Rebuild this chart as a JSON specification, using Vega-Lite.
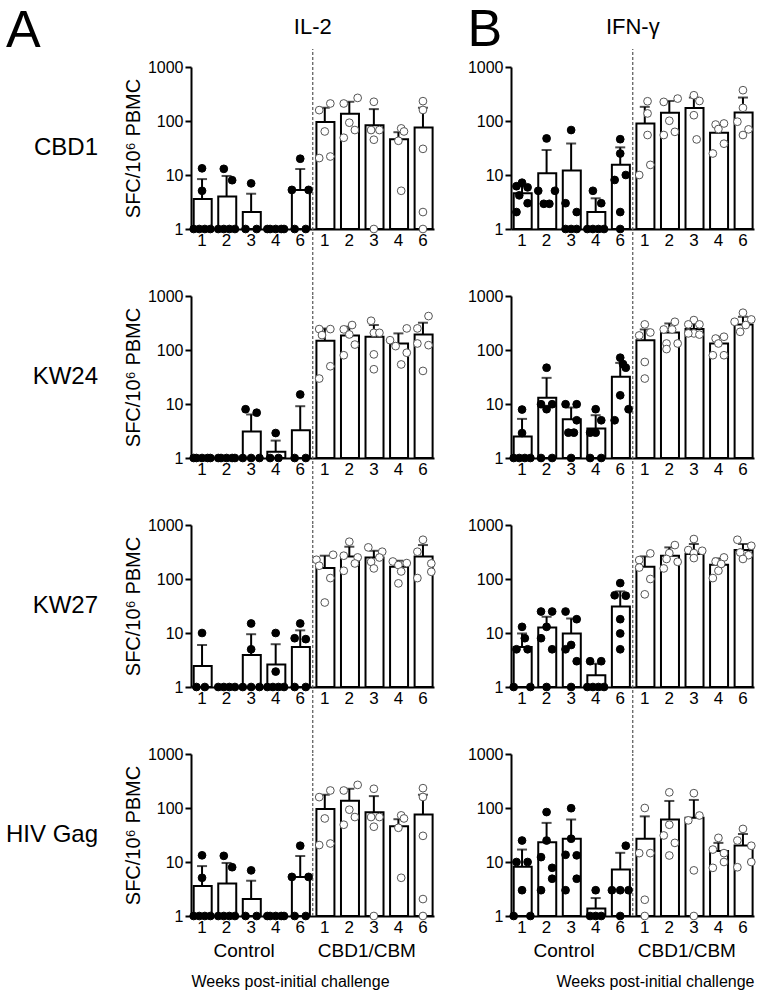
{
"$schema": "https://vega.github.io/schema/vega-lite/v6.json",
"padding": {"left": 5, "top": 4, "right": 2, "bottom": 2},
"config": {
 "font": "Liberation Sans",
 "view": {"stroke": null},
 "axis": {"domainColor": "black", "domainWidth": 2, "tickColor": "black", "tickWidth": 2, "labelColor": "black", "titleColor": "black", "grid": false, "titleFontWeight": "normal"},
 "title": {"fontWeight": "normal", "color": "black"}
},
"data": {"name": "d"},
"datasets": {"d": [
{"cyt":"IL-2","tgt":"CBD1","wk":"C1","mean":3.6,"hi":8.4},
{"cyt":"IL-2","tgt":"CBD1","wk":"C2","mean":4.0,"hi":9.6},
{"cyt":"IL-2","tgt":"CBD1","wk":"C3","mean":2.06,"hi":4.5},
{"cyt":"IL-2","tgt":"CBD1","wk":"C4","mean":1,"hi":1},
{"cyt":"IL-2","tgt":"CBD1","wk":"C6","mean":5.3,"hi":12.9},
{"cyt":"IL-2","tgt":"CBD1","wk":"V1","mean":96,"hi":176},
{"cyt":"IL-2","tgt":"CBD1","wk":"V2","mean":136,"hi":227},
{"cyt":"IL-2","tgt":"CBD1","wk":"V3","mean":83,"hi":166},
{"cyt":"IL-2","tgt":"CBD1","wk":"V4","mean":46,"hi":62},
{"cyt":"IL-2","tgt":"CBD1","wk":"V6","mean":76,"hi":176},
{"cyt":"IL-2","tgt":"HIV Gag","wk":"C1","mean":3.6,"hi":8.4},
{"cyt":"IL-2","tgt":"HIV Gag","wk":"C2","mean":4.0,"hi":9.6},
{"cyt":"IL-2","tgt":"HIV Gag","wk":"C3","mean":2.06,"hi":4.5},
{"cyt":"IL-2","tgt":"HIV Gag","wk":"C4","mean":1,"hi":1},
{"cyt":"IL-2","tgt":"HIV Gag","wk":"C6","mean":5.3,"hi":12.9},
{"cyt":"IL-2","tgt":"HIV Gag","wk":"V1","mean":96,"hi":176},
{"cyt":"IL-2","tgt":"HIV Gag","wk":"V2","mean":136,"hi":227},
{"cyt":"IL-2","tgt":"HIV Gag","wk":"V3","mean":83,"hi":166},
{"cyt":"IL-2","tgt":"HIV Gag","wk":"V4","mean":46,"hi":62},
{"cyt":"IL-2","tgt":"HIV Gag","wk":"V6","mean":76,"hi":176},
{"cyt":"IL-2","tgt":"KW24","wk":"C1","mean":1,"hi":1},
{"cyt":"IL-2","tgt":"KW24","wk":"C2","mean":1,"hi":1},
{"cyt":"IL-2","tgt":"KW24","wk":"C3","mean":3.1,"hi":6.4},
{"cyt":"IL-2","tgt":"KW24","wk":"C4","mean":1.31,"hi":2.1},
{"cyt":"IL-2","tgt":"KW24","wk":"C6","mean":3.26,"hi":9.1},
{"cyt":"IL-2","tgt":"KW24","wk":"V1","mean":148,"hi":250},
{"cyt":"IL-2","tgt":"KW24","wk":"V2","mean":186,"hi":270},
{"cyt":"IL-2","tgt":"KW24","wk":"V3","mean":176,"hi":290},
{"cyt":"IL-2","tgt":"KW24","wk":"V4","mean":132,"hi":203},
{"cyt":"IL-2","tgt":"KW24","wk":"V6","mean":194,"hi":320},
{"cyt":"IL-2","tgt":"KW27","wk":"C1","mean":2.45,"hi":6.0},
{"cyt":"IL-2","tgt":"KW27","wk":"C2","mean":1,"hi":1},
{"cyt":"IL-2","tgt":"KW27","wk":"C3","mean":3.9,"hi":9.5},
{"cyt":"IL-2","tgt":"KW27","wk":"C4","mean":2.6,"hi":6.2},
{"cyt":"IL-2","tgt":"KW27","wk":"C6","mean":5.5,"hi":11.2},
{"cyt":"IL-2","tgt":"KW27","wk":"V1","mean":159,"hi":270},
{"cyt":"IL-2","tgt":"KW27","wk":"V2","mean":262,"hi":396},
{"cyt":"IL-2","tgt":"KW27","wk":"V3","mean":251,"hi":333},
{"cyt":"IL-2","tgt":"KW27","wk":"V4","mean":168,"hi":218},
{"cyt":"IL-2","tgt":"KW27","wk":"V6","mean":262,"hi":425},
{"cyt":"IFN-γ","tgt":"CBD1","wk":"C1","mean":4.6,"hi":6.3},
{"cyt":"IFN-γ","tgt":"CBD1","wk":"C2","mean":10.8,"hi":29},
{"cyt":"IFN-γ","tgt":"CBD1","wk":"C3","mean":12.1,"hi":38.5},
{"cyt":"IFN-γ","tgt":"CBD1","wk":"C4","mean":2.06,"hi":3.7},
{"cyt":"IFN-γ","tgt":"CBD1","wk":"C6","mean":15.4,"hi":32.5},
{"cyt":"IFN-γ","tgt":"CBD1","wk":"V1","mean":90,"hi":183},
{"cyt":"IFN-γ","tgt":"CBD1","wk":"V2","mean":142,"hi":235},
{"cyt":"IFN-γ","tgt":"CBD1","wk":"V3","mean":175,"hi":272},
{"cyt":"IFN-γ","tgt":"CBD1","wk":"V4","mean":60.6,"hi":84},
{"cyt":"IFN-γ","tgt":"CBD1","wk":"V6","mean":144,"hi":272},
{"cyt":"IFN-γ","tgt":"KW24","wk":"C1","mean":2.5,"hi":5.3},
{"cyt":"IFN-γ","tgt":"KW24","wk":"C2","mean":13,"hi":30.5},
{"cyt":"IFN-γ","tgt":"KW24","wk":"C3","mean":5.2,"hi":8.6},
{"cyt":"IFN-γ","tgt":"KW24","wk":"C4","mean":3.5,"hi":6.2},
{"cyt":"IFN-γ","tgt":"KW24","wk":"C6","mean":31.8,"hi":57.7},
{"cyt":"IFN-γ","tgt":"KW24","wk":"V1","mean":152,"hi":240},
{"cyt":"IFN-γ","tgt":"KW24","wk":"V2","mean":211,"hi":310},
{"cyt":"IFN-γ","tgt":"KW24","wk":"V3","mean":244,"hi":310},
{"cyt":"IFN-γ","tgt":"KW24","wk":"V4","mean":132,"hi":176},
{"cyt":"IFN-γ","tgt":"KW24","wk":"V6","mean":298,"hi":412},
{"cyt":"IFN-γ","tgt":"KW27","wk":"C1","mean":5.5,"hi":9.8},
{"cyt":"IFN-γ","tgt":"KW27","wk":"C2","mean":12.6,"hi":20},
{"cyt":"IFN-γ","tgt":"KW27","wk":"C3","mean":9.8,"hi":18.5},
{"cyt":"IFN-γ","tgt":"KW27","wk":"C4","mean":1.65,"hi":2.7},
{"cyt":"IFN-γ","tgt":"KW27","wk":"C6","mean":31,"hi":59},
{"cyt":"IFN-γ","tgt":"KW27","wk":"V1","mean":168,"hi":262},
{"cyt":"IFN-γ","tgt":"KW27","wk":"V2","mean":270,"hi":385},
{"cyt":"IFN-γ","tgt":"KW27","wk":"V3","mean":290,"hi":445},
{"cyt":"IFN-γ","tgt":"KW27","wk":"V4","mean":183,"hi":240},
{"cyt":"IFN-γ","tgt":"KW27","wk":"V6","mean":343,"hi":445},
{"cyt":"IFN-γ","tgt":"HIV Gag","wk":"C1","mean":8.2,"hi":17},
{"cyt":"IFN-γ","tgt":"HIV Gag","wk":"C2","mean":23.3,"hi":53},
{"cyt":"IFN-γ","tgt":"HIV Gag","wk":"C3","mean":27,"hi":61},
{"cyt":"IFN-γ","tgt":"HIV Gag","wk":"C4","mean":1.37,"hi":2.15},
{"cyt":"IFN-γ","tgt":"HIV Gag","wk":"C6","mean":7.3,"hi":14.8},
{"cyt":"IFN-γ","tgt":"HIV Gag","wk":"V1","mean":27,"hi":70},
{"cyt":"IFN-γ","tgt":"HIV Gag","wk":"V2","mean":61,"hi":135},
{"cyt":"IFN-γ","tgt":"HIV Gag","wk":"V3","mean":66,"hi":141},
{"cyt":"IFN-γ","tgt":"HIV Gag","wk":"V4","mean":15.9,"hi":22.6},
{"cyt":"IFN-γ","tgt":"HIV Gag","wk":"V6","mean":20.2,"hi":33},
{"cyt":"IL-2","tgt":"CBD1","wk":"C1","v":13.3,"r":4},{"cyt":"IL-2","tgt":"CBD1","wk":"C1","v":5.1,"r":4},{"cyt":"IL-2","tgt":"CBD1","wk":"C1","v":1,"r":1},{"cyt":"IL-2","tgt":"CBD1","wk":"C1","v":1,"r":3},{"cyt":"IL-2","tgt":"CBD1","wk":"C1","v":1,"r":5},{"cyt":"IL-2","tgt":"CBD1","wk":"C1","v":1,"r":7},
{"cyt":"IL-2","tgt":"CBD1","wk":"C2","v":13,"r":3},{"cyt":"IL-2","tgt":"CBD1","wk":"C2","v":8,"r":6},{"cyt":"IL-2","tgt":"CBD1","wk":"C2","v":1,"r":1},{"cyt":"IL-2","tgt":"CBD1","wk":"C2","v":1,"r":3},{"cyt":"IL-2","tgt":"CBD1","wk":"C2","v":1,"r":5},{"cyt":"IL-2","tgt":"CBD1","wk":"C2","v":1,"r":7},
{"cyt":"IL-2","tgt":"CBD1","wk":"C3","v":7,"r":4},{"cyt":"IL-2","tgt":"CBD1","wk":"C3","v":1,"r":2},{"cyt":"IL-2","tgt":"CBD1","wk":"C3","v":1,"r":6},
{"cyt":"IL-2","tgt":"CBD1","wk":"C4","v":1,"r":1},{"cyt":"IL-2","tgt":"CBD1","wk":"C4","v":1,"r":2},{"cyt":"IL-2","tgt":"CBD1","wk":"C4","v":1,"r":4},{"cyt":"IL-2","tgt":"CBD1","wk":"C4","v":1,"r":6},{"cyt":"IL-2","tgt":"CBD1","wk":"C4","v":1,"r":7},
{"cyt":"IL-2","tgt":"CBD1","wk":"C6","v":20,"r":4},{"cyt":"IL-2","tgt":"CBD1","wk":"C6","v":5.3,"r":1},{"cyt":"IL-2","tgt":"CBD1","wk":"C6","v":5.3,"r":7},{"cyt":"IL-2","tgt":"CBD1","wk":"C6","v":1,"r":2},{"cyt":"IL-2","tgt":"CBD1","wk":"C6","v":1,"r":6},
{"cyt":"IL-2","tgt":"CBD1","wk":"V1","v":159,"r":2},{"cyt":"IL-2","tgt":"CBD1","wk":"V1","v":211,"r":6},{"cyt":"IL-2","tgt":"CBD1","wk":"V1","v":64,"r":4},{"cyt":"IL-2","tgt":"CBD1","wk":"V1","v":20.6,"r":2},{"cyt":"IL-2","tgt":"CBD1","wk":"V1","v":22,"r":6},
{"cyt":"IL-2","tgt":"CBD1","wk":"V2","v":268,"r":7},{"cyt":"IL-2","tgt":"CBD1","wk":"V2","v":211,"r":2},{"cyt":"IL-2","tgt":"CBD1","wk":"V2","v":93,"r":4},{"cyt":"IL-2","tgt":"CBD1","wk":"V2","v":68,"r":6},{"cyt":"IL-2","tgt":"CBD1","wk":"V2","v":49,"r":2},
{"cyt":"IL-2","tgt":"CBD1","wk":"V3","v":227,"r":4},{"cyt":"IL-2","tgt":"CBD1","wk":"V3","v":68,"r":3},{"cyt":"IL-2","tgt":"CBD1","wk":"V3","v":68,"r":6},{"cyt":"IL-2","tgt":"CBD1","wk":"V3","v":45,"r":4},{"cyt":"IL-2","tgt":"CBD1","wk":"V3","v":1,"r":4},
{"cyt":"IL-2","tgt":"CBD1","wk":"V4","v":73,"r":5},{"cyt":"IL-2","tgt":"CBD1","wk":"V4","v":64,"r":6},{"cyt":"IL-2","tgt":"CBD1","wk":"V4","v":43,"r":4},{"cyt":"IL-2","tgt":"CBD1","wk":"V4","v":5.1,"r":5},
{"cyt":"IL-2","tgt":"CBD1","wk":"V6","v":233,"r":4},{"cyt":"IL-2","tgt":"CBD1","wk":"V6","v":160,"r":4},{"cyt":"IL-2","tgt":"CBD1","wk":"V6","v":30.5,"r":4},{"cyt":"IL-2","tgt":"CBD1","wk":"V6","v":2.06,"r":4},{"cyt":"IL-2","tgt":"CBD1","wk":"V6","v":1,"r":4},
{"cyt":"IL-2","tgt":"HIV Gag","wk":"C1","v":13.3,"r":4},{"cyt":"IL-2","tgt":"HIV Gag","wk":"C1","v":5.1,"r":4},{"cyt":"IL-2","tgt":"HIV Gag","wk":"C1","v":1,"r":1},{"cyt":"IL-2","tgt":"HIV Gag","wk":"C1","v":1,"r":3},{"cyt":"IL-2","tgt":"HIV Gag","wk":"C1","v":1,"r":5},{"cyt":"IL-2","tgt":"HIV Gag","wk":"C1","v":1,"r":7},
{"cyt":"IL-2","tgt":"HIV Gag","wk":"C2","v":13,"r":3},{"cyt":"IL-2","tgt":"HIV Gag","wk":"C2","v":8,"r":6},{"cyt":"IL-2","tgt":"HIV Gag","wk":"C2","v":1,"r":1},{"cyt":"IL-2","tgt":"HIV Gag","wk":"C2","v":1,"r":3},{"cyt":"IL-2","tgt":"HIV Gag","wk":"C2","v":1,"r":5},{"cyt":"IL-2","tgt":"HIV Gag","wk":"C2","v":1,"r":7},
{"cyt":"IL-2","tgt":"HIV Gag","wk":"C3","v":7,"r":4},{"cyt":"IL-2","tgt":"HIV Gag","wk":"C3","v":1,"r":2},{"cyt":"IL-2","tgt":"HIV Gag","wk":"C3","v":1,"r":6},
{"cyt":"IL-2","tgt":"HIV Gag","wk":"C4","v":1,"r":1},{"cyt":"IL-2","tgt":"HIV Gag","wk":"C4","v":1,"r":2},{"cyt":"IL-2","tgt":"HIV Gag","wk":"C4","v":1,"r":4},{"cyt":"IL-2","tgt":"HIV Gag","wk":"C4","v":1,"r":6},{"cyt":"IL-2","tgt":"HIV Gag","wk":"C4","v":1,"r":7},
{"cyt":"IL-2","tgt":"HIV Gag","wk":"C6","v":20,"r":4},{"cyt":"IL-2","tgt":"HIV Gag","wk":"C6","v":5.3,"r":1},{"cyt":"IL-2","tgt":"HIV Gag","wk":"C6","v":5.3,"r":7},{"cyt":"IL-2","tgt":"HIV Gag","wk":"C6","v":1,"r":2},{"cyt":"IL-2","tgt":"HIV Gag","wk":"C6","v":1,"r":6},
{"cyt":"IL-2","tgt":"HIV Gag","wk":"V1","v":159,"r":2},{"cyt":"IL-2","tgt":"HIV Gag","wk":"V1","v":211,"r":6},{"cyt":"IL-2","tgt":"HIV Gag","wk":"V1","v":64,"r":4},{"cyt":"IL-2","tgt":"HIV Gag","wk":"V1","v":20.6,"r":2},{"cyt":"IL-2","tgt":"HIV Gag","wk":"V1","v":22,"r":6},
{"cyt":"IL-2","tgt":"HIV Gag","wk":"V2","v":268,"r":7},{"cyt":"IL-2","tgt":"HIV Gag","wk":"V2","v":211,"r":2},{"cyt":"IL-2","tgt":"HIV Gag","wk":"V2","v":93,"r":4},{"cyt":"IL-2","tgt":"HIV Gag","wk":"V2","v":68,"r":6},{"cyt":"IL-2","tgt":"HIV Gag","wk":"V2","v":49,"r":2},
{"cyt":"IL-2","tgt":"HIV Gag","wk":"V3","v":227,"r":4},{"cyt":"IL-2","tgt":"HIV Gag","wk":"V3","v":68,"r":3},{"cyt":"IL-2","tgt":"HIV Gag","wk":"V3","v":68,"r":6},{"cyt":"IL-2","tgt":"HIV Gag","wk":"V3","v":45,"r":4},{"cyt":"IL-2","tgt":"HIV Gag","wk":"V3","v":1,"r":4},
{"cyt":"IL-2","tgt":"HIV Gag","wk":"V4","v":73,"r":5},{"cyt":"IL-2","tgt":"HIV Gag","wk":"V4","v":64,"r":6},{"cyt":"IL-2","tgt":"HIV Gag","wk":"V4","v":43,"r":4},{"cyt":"IL-2","tgt":"HIV Gag","wk":"V4","v":5.1,"r":5},
{"cyt":"IL-2","tgt":"HIV Gag","wk":"V6","v":233,"r":4},{"cyt":"IL-2","tgt":"HIV Gag","wk":"V6","v":160,"r":4},{"cyt":"IL-2","tgt":"HIV Gag","wk":"V6","v":30.5,"r":4},{"cyt":"IL-2","tgt":"HIV Gag","wk":"V6","v":2.06,"r":4},{"cyt":"IL-2","tgt":"HIV Gag","wk":"V6","v":1,"r":4},
{"cyt":"IL-2","tgt":"KW24","wk":"C1","v":1,"r":1},{"cyt":"IL-2","tgt":"KW24","wk":"C1","v":1,"r":2},{"cyt":"IL-2","tgt":"KW24","wk":"C1","v":1,"r":4},{"cyt":"IL-2","tgt":"KW24","wk":"C1","v":1,"r":6},{"cyt":"IL-2","tgt":"KW24","wk":"C1","v":1,"r":7},
{"cyt":"IL-2","tgt":"KW24","wk":"C2","v":1,"r":1},{"cyt":"IL-2","tgt":"KW24","wk":"C2","v":1,"r":2},{"cyt":"IL-2","tgt":"KW24","wk":"C2","v":1,"r":4},{"cyt":"IL-2","tgt":"KW24","wk":"C2","v":1,"r":6},{"cyt":"IL-2","tgt":"KW24","wk":"C2","v":1,"r":7},
{"cyt":"IL-2","tgt":"KW24","wk":"C3","v":8,"r":2},{"cyt":"IL-2","tgt":"KW24","wk":"C3","v":6.9,"r":6},{"cyt":"IL-2","tgt":"KW24","wk":"C3","v":1,"r":1},{"cyt":"IL-2","tgt":"KW24","wk":"C3","v":1,"r":4},{"cyt":"IL-2","tgt":"KW24","wk":"C3","v":1,"r":7},
{"cyt":"IL-2","tgt":"KW24","wk":"C4","v":2.9,"r":4},{"cyt":"IL-2","tgt":"KW24","wk":"C4","v":1,"r":2},{"cyt":"IL-2","tgt":"KW24","wk":"C4","v":1,"r":5},
{"cyt":"IL-2","tgt":"KW24","wk":"C6","v":15,"r":4},{"cyt":"IL-2","tgt":"KW24","wk":"C6","v":1,"r":2},{"cyt":"IL-2","tgt":"KW24","wk":"C6","v":1,"r":6},
{"cyt":"IL-2","tgt":"KW24","wk":"V1","v":244,"r":2},{"cyt":"IL-2","tgt":"KW24","wk":"V1","v":244,"r":6},{"cyt":"IL-2","tgt":"KW24","wk":"V1","v":189,"r":3},{"cyt":"IL-2","tgt":"KW24","wk":"V1","v":50,"r":6},{"cyt":"IL-2","tgt":"KW24","wk":"V1","v":29.6,"r":2},
{"cyt":"IL-2","tgt":"KW24","wk":"V2","v":290,"r":5},{"cyt":"IL-2","tgt":"KW24","wk":"V2","v":241,"r":2},{"cyt":"IL-2","tgt":"KW24","wk":"V2","v":194,"r":4},{"cyt":"IL-2","tgt":"KW24","wk":"V2","v":126,"r":6},{"cyt":"IL-2","tgt":"KW24","wk":"V2","v":80,"r":2},
{"cyt":"IL-2","tgt":"KW24","wk":"V3","v":348,"r":3},{"cyt":"IL-2","tgt":"KW24","wk":"V3","v":208,"r":4},{"cyt":"IL-2","tgt":"KW24","wk":"V3","v":208,"r":6},{"cyt":"IL-2","tgt":"KW24","wk":"V3","v":83,"r":4},{"cyt":"IL-2","tgt":"KW24","wk":"V3","v":44,"r":4},
{"cyt":"IL-2","tgt":"KW24","wk":"V4","v":251,"r":7},{"cyt":"IL-2","tgt":"KW24","wk":"V4","v":152,"r":1},{"cyt":"IL-2","tgt":"KW24","wk":"V4","v":118,"r":3},{"cyt":"IL-2","tgt":"KW24","wk":"V4","v":89,"r":7},{"cyt":"IL-2","tgt":"KW24","wk":"V4","v":54,"r":5},
{"cyt":"IL-2","tgt":"KW24","wk":"V6","v":425,"r":6},{"cyt":"IL-2","tgt":"KW24","wk":"V6","v":251,"r":2},{"cyt":"IL-2","tgt":"KW24","wk":"V6","v":132,"r":2},{"cyt":"IL-2","tgt":"KW24","wk":"V6","v":123,"r":6},{"cyt":"IL-2","tgt":"KW24","wk":"V6","v":41,"r":4},
{"cyt":"IL-2","tgt":"KW27","wk":"C1","v":10,"r":4},{"cyt":"IL-2","tgt":"KW27","wk":"C1","v":1,"r":2},{"cyt":"IL-2","tgt":"KW27","wk":"C1","v":1,"r":5},
{"cyt":"IL-2","tgt":"KW27","wk":"C2","v":1,"r":1},{"cyt":"IL-2","tgt":"KW27","wk":"C2","v":1,"r":3},{"cyt":"IL-2","tgt":"KW27","wk":"C2","v":1,"r":5},{"cyt":"IL-2","tgt":"KW27","wk":"C2","v":1,"r":7},
{"cyt":"IL-2","tgt":"KW27","wk":"C3","v":15,"r":4},{"cyt":"IL-2","tgt":"KW27","wk":"C3","v":5,"r":4},{"cyt":"IL-2","tgt":"KW27","wk":"C3","v":1,"r":1},{"cyt":"IL-2","tgt":"KW27","wk":"C3","v":1,"r":4},{"cyt":"IL-2","tgt":"KW27","wk":"C3","v":1,"r":7},
{"cyt":"IL-2","tgt":"KW27","wk":"C4","v":10,"r":4},{"cyt":"IL-2","tgt":"KW27","wk":"C4","v":1.93,"r":4},{"cyt":"IL-2","tgt":"KW27","wk":"C4","v":1,"r":1},{"cyt":"IL-2","tgt":"KW27","wk":"C4","v":1,"r":3},{"cyt":"IL-2","tgt":"KW27","wk":"C4","v":1,"r":5},{"cyt":"IL-2","tgt":"KW27","wk":"C4","v":1,"r":7},
{"cyt":"IL-2","tgt":"KW27","wk":"C6","v":15,"r":4},{"cyt":"IL-2","tgt":"KW27","wk":"C6","v":8,"r":2},{"cyt":"IL-2","tgt":"KW27","wk":"C6","v":7.7,"r":6},{"cyt":"IL-2","tgt":"KW27","wk":"C6","v":1,"r":2},{"cyt":"IL-2","tgt":"KW27","wk":"C6","v":1,"r":6},
{"cyt":"IL-2","tgt":"KW27","wk":"V1","v":227,"r":1},{"cyt":"IL-2","tgt":"KW27","wk":"V1","v":281,"r":7},{"cyt":"IL-2","tgt":"KW27","wk":"V1","v":176,"r":2},{"cyt":"IL-2","tgt":"KW27","wk":"V1","v":104,"r":6},{"cyt":"IL-2","tgt":"KW27","wk":"V1","v":36.7,"r":4},
{"cyt":"IL-2","tgt":"KW27","wk":"V2","v":490,"r":4},{"cyt":"IL-2","tgt":"KW27","wk":"V2","v":270,"r":2},{"cyt":"IL-2","tgt":"KW27","wk":"V2","v":251,"r":7},{"cyt":"IL-2","tgt":"KW27","wk":"V2","v":194,"r":6},{"cyt":"IL-2","tgt":"KW27","wk":"V2","v":142,"r":2},
{"cyt":"IL-2","tgt":"KW27","wk":"V3","v":385,"r":2},{"cyt":"IL-2","tgt":"KW27","wk":"V3","v":320,"r":7},{"cyt":"IL-2","tgt":"KW27","wk":"V3","v":250,"r":6},{"cyt":"IL-2","tgt":"KW27","wk":"V3","v":208,"r":3},{"cyt":"IL-2","tgt":"KW27","wk":"V3","v":157,"r":4},
{"cyt":"IL-2","tgt":"KW27","wk":"V4","v":211,"r":2},{"cyt":"IL-2","tgt":"KW27","wk":"V4","v":197,"r":7},{"cyt":"IL-2","tgt":"KW27","wk":"V4","v":181,"r":4},{"cyt":"IL-2","tgt":"KW27","wk":"V4","v":138,"r":5},{"cyt":"IL-2","tgt":"KW27","wk":"V4","v":83,"r":4},
{"cyt":"IL-2","tgt":"KW27","wk":"V6","v":533,"r":4},{"cyt":"IL-2","tgt":"KW27","wk":"V6","v":320,"r":2},{"cyt":"IL-2","tgt":"KW27","wk":"V6","v":194,"r":7},{"cyt":"IL-2","tgt":"KW27","wk":"V6","v":136,"r":7},{"cyt":"IL-2","tgt":"KW27","wk":"V6","v":104,"r":2},
{"cyt":"IFN-γ","tgt":"CBD1","wk":"C1","v":7.2,"r":4},{"cyt":"IFN-γ","tgt":"CBD1","wk":"C1","v":6.2,"r":2},{"cyt":"IFN-γ","tgt":"CBD1","wk":"C1","v":5.9,"r":6},{"cyt":"IFN-γ","tgt":"CBD1","wk":"C1","v":4.2,"r":3},{"cyt":"IFN-γ","tgt":"CBD1","wk":"C1","v":3.0,"r":6},{"cyt":"IFN-γ","tgt":"CBD1","wk":"C1","v":2.06,"r":2},
{"cyt":"IFN-γ","tgt":"CBD1","wk":"C2","v":47.6,"r":4},{"cyt":"IFN-γ","tgt":"CBD1","wk":"C2","v":5.1,"r":1},{"cyt":"IFN-γ","tgt":"CBD1","wk":"C2","v":5.1,"r":7},{"cyt":"IFN-γ","tgt":"CBD1","wk":"C2","v":2.93,"r":3},{"cyt":"IFN-γ","tgt":"CBD1","wk":"C2","v":2.93,"r":5},
{"cyt":"IFN-γ","tgt":"CBD1","wk":"C3","v":68,"r":4},{"cyt":"IFN-γ","tgt":"CBD1","wk":"C3","v":3.0,"r":2},{"cyt":"IFN-γ","tgt":"CBD1","wk":"C3","v":2.06,"r":6},{"cyt":"IFN-γ","tgt":"CBD1","wk":"C3","v":1,"r":2},{"cyt":"IFN-γ","tgt":"CBD1","wk":"C3","v":1,"r":4},{"cyt":"IFN-γ","tgt":"CBD1","wk":"C3","v":1,"r":6},
{"cyt":"IFN-γ","tgt":"CBD1","wk":"C4","v":5.1,"r":3},{"cyt":"IFN-γ","tgt":"CBD1","wk":"C4","v":3.0,"r":6},{"cyt":"IFN-γ","tgt":"CBD1","wk":"C4","v":1,"r":1},{"cyt":"IFN-γ","tgt":"CBD1","wk":"C4","v":1,"r":3},{"cyt":"IFN-γ","tgt":"CBD1","wk":"C4","v":1,"r":5},{"cyt":"IFN-γ","tgt":"CBD1","wk":"C4","v":1,"r":7},
{"cyt":"IFN-γ","tgt":"CBD1","wk":"C6","v":46,"r":4},{"cyt":"IFN-γ","tgt":"CBD1","wk":"C6","v":25,"r":4},{"cyt":"IFN-γ","tgt":"CBD1","wk":"C6","v":10,"r":6},{"cyt":"IFN-γ","tgt":"CBD1","wk":"C6","v":8.1,"r":2},{"cyt":"IFN-γ","tgt":"CBD1","wk":"C6","v":2.06,"r":4},{"cyt":"IFN-γ","tgt":"CBD1","wk":"C6","v":1,"r":4},
{"cyt":"IFN-γ","tgt":"CBD1","wk":"V1","v":232,"r":5},{"cyt":"IFN-γ","tgt":"CBD1","wk":"V1","v":138,"r":5},{"cyt":"IFN-γ","tgt":"CBD1","wk":"V1","v":55,"r":5},{"cyt":"IFN-γ","tgt":"CBD1","wk":"V1","v":15.4,"r":6},{"cyt":"IFN-γ","tgt":"CBD1","wk":"V1","v":10,"r":2},
{"cyt":"IFN-γ","tgt":"CBD1","wk":"V2","v":226,"r":2},{"cyt":"IFN-γ","tgt":"CBD1","wk":"V2","v":260,"r":7},{"cyt":"IFN-γ","tgt":"CBD1","wk":"V2","v":101,"r":4},{"cyt":"IFN-γ","tgt":"CBD1","wk":"V2","v":55,"r":2},{"cyt":"IFN-γ","tgt":"CBD1","wk":"V2","v":63,"r":6},
{"cyt":"IFN-γ","tgt":"CBD1","wk":"V3","v":300,"r":4},{"cyt":"IFN-γ","tgt":"CBD1","wk":"V3","v":235,"r":6},{"cyt":"IFN-γ","tgt":"CBD1","wk":"V3","v":128,"r":4},{"cyt":"IFN-γ","tgt":"CBD1","wk":"V3","v":45.6,"r":5},
{"cyt":"IFN-γ","tgt":"CBD1","wk":"V4","v":86,"r":3},{"cyt":"IFN-γ","tgt":"CBD1","wk":"V4","v":90,"r":6},{"cyt":"IFN-γ","tgt":"CBD1","wk":"V4","v":71,"r":4},{"cyt":"IFN-γ","tgt":"CBD1","wk":"V4","v":38,"r":6},{"cyt":"IFN-γ","tgt":"CBD1","wk":"V4","v":25,"r":2},
{"cyt":"IFN-γ","tgt":"CBD1","wk":"V6","v":372,"r":4},{"cyt":"IFN-γ","tgt":"CBD1","wk":"V6","v":175,"r":4},{"cyt":"IFN-γ","tgt":"CBD1","wk":"V6","v":97,"r":2},{"cyt":"IFN-γ","tgt":"CBD1","wk":"V6","v":70,"r":6},{"cyt":"IFN-γ","tgt":"CBD1","wk":"V6","v":55,"r":4},
{"cyt":"IFN-γ","tgt":"KW24","wk":"C1","v":7.9,"r":4},{"cyt":"IFN-γ","tgt":"KW24","wk":"C1","v":2.9,"r":4},{"cyt":"IFN-γ","tgt":"KW24","wk":"C1","v":1,"r":1},{"cyt":"IFN-γ","tgt":"KW24","wk":"C1","v":1,"r":3},{"cyt":"IFN-γ","tgt":"KW24","wk":"C1","v":1,"r":5},{"cyt":"IFN-γ","tgt":"KW24","wk":"C1","v":1,"r":7},
{"cyt":"IFN-γ","tgt":"KW24","wk":"C2","v":47,"r":4},{"cyt":"IFN-γ","tgt":"KW24","wk":"C2","v":9.9,"r":2},{"cyt":"IFN-γ","tgt":"KW24","wk":"C2","v":9.9,"r":6},{"cyt":"IFN-γ","tgt":"KW24","wk":"C2","v":8,"r":4},{"cyt":"IFN-γ","tgt":"KW24","wk":"C2","v":1,"r":2},{"cyt":"IFN-γ","tgt":"KW24","wk":"C2","v":1,"r":6},
{"cyt":"IFN-γ","tgt":"KW24","wk":"C3","v":9.9,"r":2},{"cyt":"IFN-γ","tgt":"KW24","wk":"C3","v":9.9,"r":6},{"cyt":"IFN-γ","tgt":"KW24","wk":"C3","v":5,"r":6},{"cyt":"IFN-γ","tgt":"KW24","wk":"C3","v":2.95,"r":3},{"cyt":"IFN-γ","tgt":"KW24","wk":"C3","v":2.95,"r":5},{"cyt":"IFN-γ","tgt":"KW24","wk":"C3","v":1,"r":4},
{"cyt":"IFN-γ","tgt":"KW24","wk":"C4","v":8,"r":4},{"cyt":"IFN-γ","tgt":"KW24","wk":"C4","v":5,"r":6},{"cyt":"IFN-γ","tgt":"KW24","wk":"C4","v":2.95,"r":2},{"cyt":"IFN-γ","tgt":"KW24","wk":"C4","v":2.95,"r":4},{"cyt":"IFN-γ","tgt":"KW24","wk":"C4","v":1,"r":2},{"cyt":"IFN-γ","tgt":"KW24","wk":"C4","v":1,"r":6},
{"cyt":"IFN-γ","tgt":"KW24","wk":"C6","v":72,"r":4},{"cyt":"IFN-γ","tgt":"KW24","wk":"C6","v":55,"r":5},{"cyt":"IFN-γ","tgt":"KW24","wk":"C6","v":47,"r":6},{"cyt":"IFN-γ","tgt":"KW24","wk":"C6","v":14.5,"r":4},{"cyt":"IFN-γ","tgt":"KW24","wk":"C6","v":8,"r":7},{"cyt":"IFN-γ","tgt":"KW24","wk":"C6","v":5,"r":2},
{"cyt":"IFN-γ","tgt":"KW24","wk":"V1","v":298,"r":4},{"cyt":"IFN-γ","tgt":"KW24","wk":"V1","v":211,"r":6},{"cyt":"IFN-γ","tgt":"KW24","wk":"V1","v":186,"r":2},{"cyt":"IFN-γ","tgt":"KW24","wk":"V1","v":60,"r":4},{"cyt":"IFN-γ","tgt":"KW24","wk":"V1","v":29.6,"r":4},
{"cyt":"IFN-γ","tgt":"KW24","wk":"V2","v":333,"r":6},{"cyt":"IFN-γ","tgt":"KW24","wk":"V2","v":240,"r":5},{"cyt":"IFN-γ","tgt":"KW24","wk":"V2","v":240,"r":2},{"cyt":"IFN-γ","tgt":"KW24","wk":"V2","v":132,"r":3},{"cyt":"IFN-γ","tgt":"KW24","wk":"V2","v":132,"r":7},{"cyt":"IFN-γ","tgt":"KW24","wk":"V2","v":104,"r":3},
{"cyt":"IFN-γ","tgt":"KW24","wk":"V3","v":358,"r":4},{"cyt":"IFN-γ","tgt":"KW24","wk":"V3","v":298,"r":6},{"cyt":"IFN-γ","tgt":"KW24","wk":"V3","v":298,"r":2},{"cyt":"IFN-γ","tgt":"KW24","wk":"V3","v":203,"r":4},{"cyt":"IFN-γ","tgt":"KW24","wk":"V3","v":193,"r":6},{"cyt":"IFN-γ","tgt":"KW24","wk":"V3","v":203,"r":2},
{"cyt":"IFN-γ","tgt":"KW24","wk":"V4","v":176,"r":6},{"cyt":"IFN-γ","tgt":"KW24","wk":"V4","v":163,"r":3},{"cyt":"IFN-γ","tgt":"KW24","wk":"V4","v":132,"r":4},{"cyt":"IFN-γ","tgt":"KW24","wk":"V4","v":80,"r":2},{"cyt":"IFN-γ","tgt":"KW24","wk":"V4","v":80,"r":6},
{"cyt":"IFN-γ","tgt":"KW24","wk":"V6","v":490,"r":4},{"cyt":"IFN-γ","tgt":"KW24","wk":"V6","v":368,"r":7},{"cyt":"IFN-γ","tgt":"KW24","wk":"V6","v":333,"r":1},{"cyt":"IFN-γ","tgt":"KW24","wk":"V6","v":290,"r":5},{"cyt":"IFN-γ","tgt":"KW24","wk":"V6","v":217,"r":3},
{"cyt":"IFN-γ","tgt":"KW27","wk":"C1","v":13,"r":4},{"cyt":"IFN-γ","tgt":"KW27","wk":"C1","v":8,"r":5},{"cyt":"IFN-γ","tgt":"KW27","wk":"C1","v":5,"r":2},{"cyt":"IFN-γ","tgt":"KW27","wk":"C1","v":5,"r":6},{"cyt":"IFN-γ","tgt":"KW27","wk":"C1","v":1,"r":1},{"cyt":"IFN-γ","tgt":"KW27","wk":"C1","v":1,"r":7},
{"cyt":"IFN-γ","tgt":"KW27","wk":"C2","v":25,"r":2},{"cyt":"IFN-γ","tgt":"KW27","wk":"C2","v":25,"r":6},{"cyt":"IFN-γ","tgt":"KW27","wk":"C2","v":13,"r":4},{"cyt":"IFN-γ","tgt":"KW27","wk":"C2","v":8,"r":2},{"cyt":"IFN-γ","tgt":"KW27","wk":"C2","v":5,"r":6},{"cyt":"IFN-γ","tgt":"KW27","wk":"C2","v":1,"r":4},
{"cyt":"IFN-γ","tgt":"KW27","wk":"C3","v":25,"r":2},{"cyt":"IFN-γ","tgt":"KW27","wk":"C3","v":18,"r":6},{"cyt":"IFN-γ","tgt":"KW27","wk":"C3","v":6,"r":4},{"cyt":"IFN-γ","tgt":"KW27","wk":"C3","v":5,"r":2},{"cyt":"IFN-γ","tgt":"KW27","wk":"C3","v":3,"r":6},{"cyt":"IFN-γ","tgt":"KW27","wk":"C3","v":1,"r":4},
{"cyt":"IFN-γ","tgt":"KW27","wk":"C4","v":3,"r":2},{"cyt":"IFN-γ","tgt":"KW27","wk":"C4","v":3,"r":6},{"cyt":"IFN-γ","tgt":"KW27","wk":"C4","v":1,"r":1},{"cyt":"IFN-γ","tgt":"KW27","wk":"C4","v":1,"r":3},{"cyt":"IFN-γ","tgt":"KW27","wk":"C4","v":1,"r":5},{"cyt":"IFN-γ","tgt":"KW27","wk":"C4","v":1,"r":7},
{"cyt":"IFN-γ","tgt":"KW27","wk":"C6","v":84,"r":4},{"cyt":"IFN-γ","tgt":"KW27","wk":"C6","v":50,"r":2},{"cyt":"IFN-γ","tgt":"KW27","wk":"C6","v":49,"r":6},{"cyt":"IFN-γ","tgt":"KW27","wk":"C6","v":18,"r":4},{"cyt":"IFN-γ","tgt":"KW27","wk":"C6","v":9.8,"r":4},{"cyt":"IFN-γ","tgt":"KW27","wk":"C6","v":5,"r":4},
{"cyt":"IFN-γ","tgt":"KW27","wk":"V1","v":298,"r":6},{"cyt":"IFN-γ","tgt":"KW27","wk":"V1","v":224,"r":2},{"cyt":"IFN-γ","tgt":"KW27","wk":"V1","v":163,"r":2},{"cyt":"IFN-γ","tgt":"KW27","wk":"V1","v":100,"r":6},{"cyt":"IFN-γ","tgt":"KW27","wk":"V1","v":52,"r":4},
{"cyt":"IFN-γ","tgt":"KW27","wk":"V2","v":425,"r":6},{"cyt":"IFN-γ","tgt":"KW27","wk":"V2","v":302,"r":4},{"cyt":"IFN-γ","tgt":"KW27","wk":"V2","v":235,"r":3},{"cyt":"IFN-γ","tgt":"KW27","wk":"V2","v":208,"r":7},{"cyt":"IFN-γ","tgt":"KW27","wk":"V2","v":157,"r":2},
{"cyt":"IFN-γ","tgt":"KW27","wk":"V3","v":550,"r":4},{"cyt":"IFN-γ","tgt":"KW27","wk":"V3","v":343,"r":2},{"cyt":"IFN-γ","tgt":"KW27","wk":"V3","v":333,"r":7},{"cyt":"IFN-γ","tgt":"KW27","wk":"V3","v":302,"r":4},{"cyt":"IFN-γ","tgt":"KW27","wk":"V3","v":244,"r":4},
{"cyt":"IFN-γ","tgt":"KW27","wk":"V4","v":251,"r":6},{"cyt":"IFN-γ","tgt":"KW27","wk":"V4","v":211,"r":3},{"cyt":"IFN-γ","tgt":"KW27","wk":"V4","v":190,"r":5},{"cyt":"IFN-γ","tgt":"KW27","wk":"V4","v":142,"r":4},{"cyt":"IFN-γ","tgt":"KW27","wk":"V4","v":104,"r":2},
{"cyt":"IFN-γ","tgt":"KW27","wk":"V6","v":533,"r":2},{"cyt":"IFN-γ","tgt":"KW27","wk":"V6","v":412,"r":7},{"cyt":"IFN-γ","tgt":"KW27","wk":"V6","v":310,"r":3},{"cyt":"IFN-γ","tgt":"KW27","wk":"V6","v":276,"r":6},{"cyt":"IFN-γ","tgt":"KW27","wk":"V6","v":235,"r":4},
{"cyt":"IFN-γ","tgt":"HIV Gag","wk":"C1","v":25,"r":4},{"cyt":"IFN-γ","tgt":"HIV Gag","wk":"C1","v":10,"r":2},{"cyt":"IFN-γ","tgt":"HIV Gag","wk":"C1","v":10,"r":6},{"cyt":"IFN-γ","tgt":"HIV Gag","wk":"C1","v":3,"r":4},{"cyt":"IFN-γ","tgt":"HIV Gag","wk":"C1","v":1,"r":1},{"cyt":"IFN-γ","tgt":"HIV Gag","wk":"C1","v":1,"r":7},
{"cyt":"IFN-γ","tgt":"HIV Gag","wk":"C2","v":84,"r":4},{"cyt":"IFN-γ","tgt":"HIV Gag","wk":"C2","v":25,"r":4},{"cyt":"IFN-γ","tgt":"HIV Gag","wk":"C2","v":12.3,"r":2},{"cyt":"IFN-γ","tgt":"HIV Gag","wk":"C2","v":7.8,"r":6},{"cyt":"IFN-γ","tgt":"HIV Gag","wk":"C2","v":4.9,"r":6},{"cyt":"IFN-γ","tgt":"HIV Gag","wk":"C2","v":3,"r":2},
{"cyt":"IFN-γ","tgt":"HIV Gag","wk":"C3","v":99,"r":4},{"cyt":"IFN-γ","tgt":"HIV Gag","wk":"C3","v":27,"r":4},{"cyt":"IFN-γ","tgt":"HIV Gag","wk":"C3","v":13.6,"r":2},{"cyt":"IFN-γ","tgt":"HIV Gag","wk":"C3","v":13.3,"r":6},{"cyt":"IFN-γ","tgt":"HIV Gag","wk":"C3","v":4.9,"r":6},{"cyt":"IFN-γ","tgt":"HIV Gag","wk":"C3","v":3,"r":2},
{"cyt":"IFN-γ","tgt":"HIV Gag","wk":"C4","v":3,"r":4},{"cyt":"IFN-γ","tgt":"HIV Gag","wk":"C4","v":1,"r":2},{"cyt":"IFN-γ","tgt":"HIV Gag","wk":"C4","v":1,"r":4},{"cyt":"IFN-γ","tgt":"HIV Gag","wk":"C4","v":1,"r":6},
{"cyt":"IFN-γ","tgt":"HIV Gag","wk":"C6","v":20,"r":6},{"cyt":"IFN-γ","tgt":"HIV Gag","wk":"C6","v":3,"r":1},{"cyt":"IFN-γ","tgt":"HIV Gag","wk":"C6","v":3,"r":4},{"cyt":"IFN-γ","tgt":"HIV Gag","wk":"C6","v":3,"r":7},{"cyt":"IFN-γ","tgt":"HIV Gag","wk":"C6","v":1,"r":4},
{"cyt":"IFN-γ","tgt":"HIV Gag","wk":"V1","v":100,"r":4},{"cyt":"IFN-γ","tgt":"HIV Gag","wk":"V1","v":14.6,"r":2},{"cyt":"IFN-γ","tgt":"HIV Gag","wk":"V1","v":14.6,"r":6},{"cyt":"IFN-γ","tgt":"HIV Gag","wk":"V1","v":2,"r":4},{"cyt":"IFN-γ","tgt":"HIV Gag","wk":"V1","v":1,"r":4},
{"cyt":"IFN-γ","tgt":"HIV Gag","wk":"V2","v":195,"r":4},{"cyt":"IFN-γ","tgt":"HIV Gag","wk":"V2","v":49,"r":4},{"cyt":"IFN-γ","tgt":"HIV Gag","wk":"V2","v":31,"r":2},{"cyt":"IFN-γ","tgt":"HIV Gag","wk":"V2","v":22.6,"r":6},{"cyt":"IFN-γ","tgt":"HIV Gag","wk":"V2","v":13.2,"r":4},
{"cyt":"IFN-γ","tgt":"HIV Gag","wk":"V3","v":188,"r":4},{"cyt":"IFN-γ","tgt":"HIV Gag","wk":"V3","v":72.6,"r":6},{"cyt":"IFN-γ","tgt":"HIV Gag","wk":"V3","v":59,"r":2},{"cyt":"IFN-γ","tgt":"HIV Gag","wk":"V3","v":7,"r":4},{"cyt":"IFN-γ","tgt":"HIV Gag","wk":"V3","v":1,"r":4},
{"cyt":"IFN-γ","tgt":"HIV Gag","wk":"V4","v":28,"r":4},{"cyt":"IFN-γ","tgt":"HIV Gag","wk":"V4","v":17,"r":2},{"cyt":"IFN-γ","tgt":"HIV Gag","wk":"V4","v":14.6,"r":6},{"cyt":"IFN-γ","tgt":"HIV Gag","wk":"V4","v":10,"r":6},{"cyt":"IFN-γ","tgt":"HIV Gag","wk":"V4","v":7.8,"r":2},
{"cyt":"IFN-γ","tgt":"HIV Gag","wk":"V6","v":41,"r":4},{"cyt":"IFN-γ","tgt":"HIV Gag","wk":"V6","v":25,"r":2},{"cyt":"IFN-γ","tgt":"HIV Gag","wk":"V6","v":20,"r":7},{"cyt":"IFN-γ","tgt":"HIV Gag","wk":"V6","v":10,"r":7},{"cyt":"IFN-γ","tgt":"HIV Gag","wk":"V6","v":8,"r":2}
]},
"spacing": 29,
"hconcat": [
{
 "spacing": 25,
 "hconcat": [
 {
  "title": {"text": "A", "fontSize": 52, "anchor": "start", "offset": -32, "baseline": "alphabetic"},
  "width": 92, "height": 849,
  "transform": [{"filter": "datum.cyt == 'IL-2' && datum.wk == 'V1' && isValid(datum.mean)"}],
  "mark": {"type": "text", "align": "right", "baseline": "middle", "fontSize": 24, "color": "black"},
  "encoding": {
   "x": {"datum": 1, "type": "quantitative", "scale": {"domain": [0, 1]}, "axis": null},
   "y": {"field": "tgt", "type": "nominal", "scale": {"type": "point", "domain": ["CBD1", "KW24", "KW27", "HIV Gag"], "padding": 0.354}, "axis": null},
   "text": {"field": "tgt"}
  }
 },
 {
 "bounds": "flush",
 "spacing": 67,
 "vconcat": [
  {"width": 243, "height": 162,
   "transform": [{"filter": "datum.cyt == 'IL-2' && datum.tgt == 'CBD1'"}],
   "encoding": {"x": {"field": "wk", "type": "nominal", "scale": {"domain": ["C1","C2","C3","C4","C6","V1","V2","V3","V4","V6"], "paddingInner": 0.32, "paddingOuter": 0.11}, "axis": {"title": null, "labelExpr": "substring(datum.label, 1)", "ticks": false, "labelFontSize": 17, "labelPadding": 3, "labelAngle": 0}}},
   "layer": [
    {"transform": [{"filter": "isValid(datum.mean)"}], "mark": {"type": "bar", "fill": "white", "stroke": "black", "strokeWidth": 2},
     "encoding": {"y": {"field": "mean", "type": "quantitative", "scale": {"type": "log", "domain": [1, 1000], "nice": false}, "axis": {"values": [1, 10, 100, 1000], "format": "d", "labelFontSize": 16, "tickSize": 6, "labelPadding": 2, "title": "SFC/10⁶ PBMC", "titleFontSize": 20, "titlePadding": 4}}, "y2": {"datum": 1}}},
    {"transform": [{"filter": "isValid(datum.mean)"}], "mark": {"type": "rule", "stroke": "black", "strokeWidth": 2},
     "encoding": {"y": {"field": "mean", "type": "quantitative", "scale": {"type": "log", "domain": [1, 1000], "nice": false}}, "y2": {"field": "hi"}}},
    {"transform": [{"filter": "isValid(datum.mean)"}], "mark": {"type": "tick", "color": "black", "thickness": 2, "size": 10},
     "encoding": {"y": {"field": "hi", "type": "quantitative", "scale": {"type": "log", "domain": [1, 1000], "nice": false}}}},
    {"transform": [{"filter": "isValid(datum.mean) && datum.wk == 'V1'"}], "mark": {"type": "rule", "stroke": "#555", "strokeWidth": 1.2, "strokeDash": [3, 2], "clip": false},
     "encoding": {"x": {"field": "wk", "type": "nominal", "bandPosition": -0.22, "scale": {"domain": ["C1","C2","C3","C4","C6","V1","V2","V3","V4","V6"], "paddingInner": 0.32, "paddingOuter": 0.11}},
      "y": {"datum": 0.06, "type": "quantitative", "scale": {"type": "log", "domain": [1, 1000], "nice": false}}, "y2": {"datum": 2150}}},
    {"transform": [{"filter": "isValid(datum.v)"}], "mark": {"type": "point", "shape": "circle", "filled": true, "size": 60, "strokeWidth": 1, "opacity": 1},
     "encoding": {"y": {"field": "v", "type": "quantitative", "scale": {"type": "log", "domain": [1, 1000], "nice": false}},
      "xOffset": {"field": "r", "type": "ordinal", "scale": {"domain": [1,2,3,4,5,6,7], "paddingInner": 0, "paddingOuter": 0}},
      "fill": {"condition": {"test": "substring(datum.wk, 0, 1) == 'C'", "value": "black"}, "value": "white"},
      "stroke": {"condition": {"test": "substring(datum.wk, 0, 1) == 'C'", "value": "black"}, "value": "#555"}}},
    {"transform": [{"filter": "isValid(datum.mean) && datum.wk == 'V1'"}], "mark": {"type": "text", "fontSize": 22, "baseline": "middle", "clip": false, "color": "black"},
     "encoding": {"x": {"field": "wk", "type": "nominal", "bandPosition": -0.22, "scale": {"domain": ["C1","C2","C3","C4","C6","V1","V2","V3","V4","V6"], "paddingInner": 0.32, "paddingOuter": 0.11}},
      "y": {"datum": 5500, "type": "quantitative", "scale": {"type": "log", "domain": [1, 1000], "nice": false}}, "text": {"field": "cyt"}}}
   ]},
  {"width": 243, "height": 162,
   "transform": [{"filter": "datum.cyt == 'IL-2' && datum.tgt == 'KW24'"}],
   "encoding": {"x": {"field": "wk", "type": "nominal", "scale": {"domain": ["C1","C2","C3","C4","C6","V1","V2","V3","V4","V6"], "paddingInner": 0.32, "paddingOuter": 0.11}, "axis": {"title": null, "labelExpr": "substring(datum.label, 1)", "ticks": false, "labelFontSize": 17, "labelPadding": 3, "labelAngle": 0}}},
   "layer": [
    {"transform": [{"filter": "isValid(datum.mean)"}], "mark": {"type": "bar", "fill": "white", "stroke": "black", "strokeWidth": 2},
     "encoding": {"y": {"field": "mean", "type": "quantitative", "scale": {"type": "log", "domain": [1, 1000], "nice": false}, "axis": {"values": [1, 10, 100, 1000], "format": "d", "labelFontSize": 16, "tickSize": 6, "labelPadding": 2, "title": "SFC/10⁶ PBMC", "titleFontSize": 20, "titlePadding": 4}}, "y2": {"datum": 1}}},
    {"transform": [{"filter": "isValid(datum.mean)"}], "mark": {"type": "rule", "stroke": "black", "strokeWidth": 2},
     "encoding": {"y": {"field": "mean", "type": "quantitative", "scale": {"type": "log", "domain": [1, 1000], "nice": false}}, "y2": {"field": "hi"}}},
    {"transform": [{"filter": "isValid(datum.mean)"}], "mark": {"type": "tick", "color": "black", "thickness": 2, "size": 10},
     "encoding": {"y": {"field": "hi", "type": "quantitative", "scale": {"type": "log", "domain": [1, 1000], "nice": false}}}},
    {"transform": [{"filter": "isValid(datum.mean) && datum.wk == 'V1'"}], "mark": {"type": "rule", "stroke": "#555", "strokeWidth": 1.2, "strokeDash": [3, 2], "clip": false},
     "encoding": {"x": {"field": "wk", "type": "nominal", "bandPosition": -0.22, "scale": {"domain": ["C1","C2","C3","C4","C6","V1","V2","V3","V4","V6"], "paddingInner": 0.32, "paddingOuter": 0.11}},
      "y": {"datum": 0.06, "type": "quantitative", "scale": {"type": "log", "domain": [1, 1000], "nice": false}}, "y2": {"datum": 1000}}},
    {"transform": [{"filter": "isValid(datum.v)"}], "mark": {"type": "point", "shape": "circle", "filled": true, "size": 60, "strokeWidth": 1, "opacity": 1},
     "encoding": {"y": {"field": "v", "type": "quantitative", "scale": {"type": "log", "domain": [1, 1000], "nice": false}},
      "xOffset": {"field": "r", "type": "ordinal", "scale": {"domain": [1,2,3,4,5,6,7], "paddingInner": 0, "paddingOuter": 0}},
      "fill": {"condition": {"test": "substring(datum.wk, 0, 1) == 'C'", "value": "black"}, "value": "white"},
      "stroke": {"condition": {"test": "substring(datum.wk, 0, 1) == 'C'", "value": "black"}, "value": "#555"}}}
   ]},
  {"width": 243, "height": 162,
   "transform": [{"filter": "datum.cyt == 'IL-2' && datum.tgt == 'KW27'"}],
   "encoding": {"x": {"field": "wk", "type": "nominal", "scale": {"domain": ["C1","C2","C3","C4","C6","V1","V2","V3","V4","V6"], "paddingInner": 0.32, "paddingOuter": 0.11}, "axis": {"title": null, "labelExpr": "substring(datum.label, 1)", "ticks": false, "labelFontSize": 17, "labelPadding": 3, "labelAngle": 0}}},
   "layer": [
    {"transform": [{"filter": "isValid(datum.mean)"}], "mark": {"type": "bar", "fill": "white", "stroke": "black", "strokeWidth": 2},
     "encoding": {"y": {"field": "mean", "type": "quantitative", "scale": {"type": "log", "domain": [1, 1000], "nice": false}, "axis": {"values": [1, 10, 100, 1000], "format": "d", "labelFontSize": 16, "tickSize": 6, "labelPadding": 2, "title": "SFC/10⁶ PBMC", "titleFontSize": 20, "titlePadding": 4}}, "y2": {"datum": 1}}},
    {"transform": [{"filter": "isValid(datum.mean)"}], "mark": {"type": "rule", "stroke": "black", "strokeWidth": 2},
     "encoding": {"y": {"field": "mean", "type": "quantitative", "scale": {"type": "log", "domain": [1, 1000], "nice": false}}, "y2": {"field": "hi"}}},
    {"transform": [{"filter": "isValid(datum.mean)"}], "mark": {"type": "tick", "color": "black", "thickness": 2, "size": 10},
     "encoding": {"y": {"field": "hi", "type": "quantitative", "scale": {"type": "log", "domain": [1, 1000], "nice": false}}}},
    {"transform": [{"filter": "isValid(datum.mean) && datum.wk == 'V1'"}], "mark": {"type": "rule", "stroke": "#555", "strokeWidth": 1.2, "strokeDash": [3, 2], "clip": false},
     "encoding": {"x": {"field": "wk", "type": "nominal", "bandPosition": -0.22, "scale": {"domain": ["C1","C2","C3","C4","C6","V1","V2","V3","V4","V6"], "paddingInner": 0.32, "paddingOuter": 0.11}},
      "y": {"datum": 0.06, "type": "quantitative", "scale": {"type": "log", "domain": [1, 1000], "nice": false}}, "y2": {"datum": 1000}}},
    {"transform": [{"filter": "isValid(datum.v)"}], "mark": {"type": "point", "shape": "circle", "filled": true, "size": 60, "strokeWidth": 1, "opacity": 1},
     "encoding": {"y": {"field": "v", "type": "quantitative", "scale": {"type": "log", "domain": [1, 1000], "nice": false}},
      "xOffset": {"field": "r", "type": "ordinal", "scale": {"domain": [1,2,3,4,5,6,7], "paddingInner": 0, "paddingOuter": 0}},
      "fill": {"condition": {"test": "substring(datum.wk, 0, 1) == 'C'", "value": "black"}, "value": "white"},
      "stroke": {"condition": {"test": "substring(datum.wk, 0, 1) == 'C'", "value": "black"}, "value": "#555"}}}
   ]},
  {"width": 243, "height": 162,
   "transform": [{"filter": "datum.cyt == 'IL-2' && datum.tgt == 'HIV Gag'"}],
   "encoding": {"x": {"field": "wk", "type": "nominal", "scale": {"domain": ["C1","C2","C3","C4","C6","V1","V2","V3","V4","V6"], "paddingInner": 0.32, "paddingOuter": 0.11}, "axis": {"title": "Weeks post-initial challenge", "titleFontSize": 16, "titlePadding": 38, "titleAnchor": "start", "labelExpr": "substring(datum.label, 1)", "ticks": false, "labelFontSize": 17, "labelPadding": 3, "labelAngle": 0}}},
   "layer": [
    {"transform": [{"filter": "isValid(datum.mean)"}], "mark": {"type": "bar", "fill": "white", "stroke": "black", "strokeWidth": 2},
     "encoding": {"y": {"field": "mean", "type": "quantitative", "scale": {"type": "log", "domain": [1, 1000], "nice": false}, "axis": {"values": [1, 10, 100, 1000], "format": "d", "labelFontSize": 16, "tickSize": 6, "labelPadding": 2, "title": "SFC/10⁶ PBMC", "titleFontSize": 20, "titlePadding": 4}}, "y2": {"datum": 1}}},
    {"transform": [{"filter": "isValid(datum.mean)"}], "mark": {"type": "rule", "stroke": "black", "strokeWidth": 2},
     "encoding": {"y": {"field": "mean", "type": "quantitative", "scale": {"type": "log", "domain": [1, 1000], "nice": false}}, "y2": {"field": "hi"}}},
    {"transform": [{"filter": "isValid(datum.mean)"}], "mark": {"type": "tick", "color": "black", "thickness": 2, "size": 10},
     "encoding": {"y": {"field": "hi", "type": "quantitative", "scale": {"type": "log", "domain": [1, 1000], "nice": false}}}},
    {"transform": [{"filter": "isValid(datum.mean) && datum.wk == 'V1'"}], "mark": {"type": "rule", "stroke": "#555", "strokeWidth": 1.2, "strokeDash": [3, 2], "clip": false},
     "encoding": {"x": {"field": "wk", "type": "nominal", "bandPosition": -0.22, "scale": {"domain": ["C1","C2","C3","C4","C6","V1","V2","V3","V4","V6"], "paddingInner": 0.32, "paddingOuter": 0.11}},
      "y": {"datum": 1, "type": "quantitative", "scale": {"type": "log", "domain": [1, 1000], "nice": false}}, "y2": {"datum": 1000}}},
    {"transform": [{"filter": "isValid(datum.v)"}], "mark": {"type": "point", "shape": "circle", "filled": true, "size": 60, "strokeWidth": 1, "opacity": 1},
     "encoding": {"y": {"field": "v", "type": "quantitative", "scale": {"type": "log", "domain": [1, 1000], "nice": false}},
      "xOffset": {"field": "r", "type": "ordinal", "scale": {"domain": [1,2,3,4,5,6,7], "paddingInner": 0, "paddingOuter": 0}},
      "fill": {"condition": {"test": "substring(datum.wk, 0, 1) == 'C'", "value": "black"}, "value": "white"},
      "stroke": {"condition": {"test": "substring(datum.wk, 0, 1) == 'C'", "value": "black"}, "value": "#555"}}},
    {"transform": [{"filter": "isValid(datum.mean) && (datum.wk == 'C3' || datum.wk == 'V3')"}, {"calculate": "datum.wk == 'C3' ? 'Control' : 'CBD1/CBM'", "as": "grp"}],
     "mark": {"type": "text", "fontSize": 19, "baseline": "middle", "clip": false, "dx": -7, "color": "black"},
     "encoding": {"y": {"datum": 0.225, "type": "quantitative", "scale": {"type": "log", "domain": [1, 1000], "nice": false}}, "text": {"field": "grp"}}}
   ]}
 ]
 }
 ]
},
{
 "title": {"text": "B", "fontSize": 52, "anchor": "start", "offset": -41},
 "bounds": "flush",
 "spacing": 67,
 "vconcat": [
  {"width": 243, "height": 162,
   "transform": [{"filter": "datum.cyt == 'IFN-γ' && datum.tgt == 'CBD1'"}],
   "encoding": {"x": {"field": "wk", "type": "nominal", "scale": {"domain": ["C1","C2","C3","C4","C6","V1","V2","V3","V4","V6"], "paddingInner": 0.32, "paddingOuter": 0.11}, "axis": {"title": null, "labelExpr": "substring(datum.label, 1)", "ticks": false, "labelFontSize": 17, "labelPadding": 3, "labelAngle": 0}}},
   "layer": [
    {"transform": [{"filter": "isValid(datum.mean)"}], "mark": {"type": "bar", "fill": "white", "stroke": "black", "strokeWidth": 2},
     "encoding": {"y": {"field": "mean", "type": "quantitative", "scale": {"type": "log", "domain": [1, 1000], "nice": false}, "axis": {"values": [1, 10, 100, 1000], "format": "d", "labelFontSize": 16, "tickSize": 6, "labelPadding": 2, "title": null}}, "y2": {"datum": 1}}},
    {"transform": [{"filter": "isValid(datum.mean)"}], "mark": {"type": "rule", "stroke": "black", "strokeWidth": 2},
     "encoding": {"y": {"field": "mean", "type": "quantitative", "scale": {"type": "log", "domain": [1, 1000], "nice": false}}, "y2": {"field": "hi"}}},
    {"transform": [{"filter": "isValid(datum.mean)"}], "mark": {"type": "tick", "color": "black", "thickness": 2, "size": 10},
     "encoding": {"y": {"field": "hi", "type": "quantitative", "scale": {"type": "log", "domain": [1, 1000], "nice": false}}}},
    {"transform": [{"filter": "isValid(datum.mean) && datum.wk == 'V1'"}], "mark": {"type": "rule", "stroke": "#555", "strokeWidth": 1.2, "strokeDash": [3, 2], "clip": false},
     "encoding": {"x": {"field": "wk", "type": "nominal", "bandPosition": -0.22, "scale": {"domain": ["C1","C2","C3","C4","C6","V1","V2","V3","V4","V6"], "paddingInner": 0.32, "paddingOuter": 0.11}},
      "y": {"datum": 0.06, "type": "quantitative", "scale": {"type": "log", "domain": [1, 1000], "nice": false}}, "y2": {"datum": 2150}}},
    {"transform": [{"filter": "isValid(datum.v)"}], "mark": {"type": "point", "shape": "circle", "filled": true, "size": 60, "strokeWidth": 1, "opacity": 1},
     "encoding": {"y": {"field": "v", "type": "quantitative", "scale": {"type": "log", "domain": [1, 1000], "nice": false}},
      "xOffset": {"field": "r", "type": "ordinal", "scale": {"domain": [1,2,3,4,5,6,7], "paddingInner": 0, "paddingOuter": 0}},
      "fill": {"condition": {"test": "substring(datum.wk, 0, 1) == 'C'", "value": "black"}, "value": "white"},
      "stroke": {"condition": {"test": "substring(datum.wk, 0, 1) == 'C'", "value": "black"}, "value": "#555"}}},
    {"transform": [{"filter": "isValid(datum.mean) && datum.wk == 'V1'"}], "mark": {"type": "text", "fontSize": 22, "baseline": "middle", "clip": false, "color": "black"},
     "encoding": {"x": {"field": "wk", "type": "nominal", "bandPosition": -0.22, "scale": {"domain": ["C1","C2","C3","C4","C6","V1","V2","V3","V4","V6"], "paddingInner": 0.32, "paddingOuter": 0.11}},
      "y": {"datum": 5500, "type": "quantitative", "scale": {"type": "log", "domain": [1, 1000], "nice": false}}, "text": {"field": "cyt"}}}
   ]},
  {"width": 243, "height": 162,
   "transform": [{"filter": "datum.cyt == 'IFN-γ' && datum.tgt == 'KW24'"}],
   "encoding": {"x": {"field": "wk", "type": "nominal", "scale": {"domain": ["C1","C2","C3","C4","C6","V1","V2","V3","V4","V6"], "paddingInner": 0.32, "paddingOuter": 0.11}, "axis": {"title": null, "labelExpr": "substring(datum.label, 1)", "ticks": false, "labelFontSize": 17, "labelPadding": 3, "labelAngle": 0}}},
   "layer": [
    {"transform": [{"filter": "isValid(datum.mean)"}], "mark": {"type": "bar", "fill": "white", "stroke": "black", "strokeWidth": 2},
     "encoding": {"y": {"field": "mean", "type": "quantitative", "scale": {"type": "log", "domain": [1, 1000], "nice": false}, "axis": {"values": [1, 10, 100, 1000], "format": "d", "labelFontSize": 16, "tickSize": 6, "labelPadding": 2, "title": null}}, "y2": {"datum": 1}}},
    {"transform": [{"filter": "isValid(datum.mean)"}], "mark": {"type": "rule", "stroke": "black", "strokeWidth": 2},
     "encoding": {"y": {"field": "mean", "type": "quantitative", "scale": {"type": "log", "domain": [1, 1000], "nice": false}}, "y2": {"field": "hi"}}},
    {"transform": [{"filter": "isValid(datum.mean)"}], "mark": {"type": "tick", "color": "black", "thickness": 2, "size": 10},
     "encoding": {"y": {"field": "hi", "type": "quantitative", "scale": {"type": "log", "domain": [1, 1000], "nice": false}}}},
    {"transform": [{"filter": "isValid(datum.mean) && datum.wk == 'V1'"}], "mark": {"type": "rule", "stroke": "#555", "strokeWidth": 1.2, "strokeDash": [3, 2], "clip": false},
     "encoding": {"x": {"field": "wk", "type": "nominal", "bandPosition": -0.22, "scale": {"domain": ["C1","C2","C3","C4","C6","V1","V2","V3","V4","V6"], "paddingInner": 0.32, "paddingOuter": 0.11}},
      "y": {"datum": 0.06, "type": "quantitative", "scale": {"type": "log", "domain": [1, 1000], "nice": false}}, "y2": {"datum": 1000}}},
    {"transform": [{"filter": "isValid(datum.v)"}], "mark": {"type": "point", "shape": "circle", "filled": true, "size": 60, "strokeWidth": 1, "opacity": 1},
     "encoding": {"y": {"field": "v", "type": "quantitative", "scale": {"type": "log", "domain": [1, 1000], "nice": false}},
      "xOffset": {"field": "r", "type": "ordinal", "scale": {"domain": [1,2,3,4,5,6,7], "paddingInner": 0, "paddingOuter": 0}},
      "fill": {"condition": {"test": "substring(datum.wk, 0, 1) == 'C'", "value": "black"}, "value": "white"},
      "stroke": {"condition": {"test": "substring(datum.wk, 0, 1) == 'C'", "value": "black"}, "value": "#555"}}}
   ]},
  {"width": 243, "height": 162,
   "transform": [{"filter": "datum.cyt == 'IFN-γ' && datum.tgt == 'KW27'"}],
   "encoding": {"x": {"field": "wk", "type": "nominal", "scale": {"domain": ["C1","C2","C3","C4","C6","V1","V2","V3","V4","V6"], "paddingInner": 0.32, "paddingOuter": 0.11}, "axis": {"title": null, "labelExpr": "substring(datum.label, 1)", "ticks": false, "labelFontSize": 17, "labelPadding": 3, "labelAngle": 0}}},
   "layer": [
    {"transform": [{"filter": "isValid(datum.mean)"}], "mark": {"type": "bar", "fill": "white", "stroke": "black", "strokeWidth": 2},
     "encoding": {"y": {"field": "mean", "type": "quantitative", "scale": {"type": "log", "domain": [1, 1000], "nice": false}, "axis": {"values": [1, 10, 100, 1000], "format": "d", "labelFontSize": 16, "tickSize": 6, "labelPadding": 2, "title": null}}, "y2": {"datum": 1}}},
    {"transform": [{"filter": "isValid(datum.mean)"}], "mark": {"type": "rule", "stroke": "black", "strokeWidth": 2},
     "encoding": {"y": {"field": "mean", "type": "quantitative", "scale": {"type": "log", "domain": [1, 1000], "nice": false}}, "y2": {"field": "hi"}}},
    {"transform": [{"filter": "isValid(datum.mean)"}], "mark": {"type": "tick", "color": "black", "thickness": 2, "size": 10},
     "encoding": {"y": {"field": "hi", "type": "quantitative", "scale": {"type": "log", "domain": [1, 1000], "nice": false}}}},
    {"transform": [{"filter": "isValid(datum.mean) && datum.wk == 'V1'"}], "mark": {"type": "rule", "stroke": "#555", "strokeWidth": 1.2, "strokeDash": [3, 2], "clip": false},
     "encoding": {"x": {"field": "wk", "type": "nominal", "bandPosition": -0.22, "scale": {"domain": ["C1","C2","C3","C4","C6","V1","V2","V3","V4","V6"], "paddingInner": 0.32, "paddingOuter": 0.11}},
      "y": {"datum": 0.06, "type": "quantitative", "scale": {"type": "log", "domain": [1, 1000], "nice": false}}, "y2": {"datum": 1000}}},
    {"transform": [{"filter": "isValid(datum.v)"}], "mark": {"type": "point", "shape": "circle", "filled": true, "size": 60, "strokeWidth": 1, "opacity": 1},
     "encoding": {"y": {"field": "v", "type": "quantitative", "scale": {"type": "log", "domain": [1, 1000], "nice": false}},
      "xOffset": {"field": "r", "type": "ordinal", "scale": {"domain": [1,2,3,4,5,6,7], "paddingInner": 0, "paddingOuter": 0}},
      "fill": {"condition": {"test": "substring(datum.wk, 0, 1) == 'C'", "value": "black"}, "value": "white"},
      "stroke": {"condition": {"test": "substring(datum.wk, 0, 1) == 'C'", "value": "black"}, "value": "#555"}}}
   ]},
  {"width": 243, "height": 162,
   "transform": [{"filter": "datum.cyt == 'IFN-γ' && datum.tgt == 'HIV Gag'"}],
   "encoding": {"x": {"field": "wk", "type": "nominal", "scale": {"domain": ["C1","C2","C3","C4","C6","V1","V2","V3","V4","V6"], "paddingInner": 0.32, "paddingOuter": 0.11}, "axis": {"title": "Weeks post-initial challenge", "titleFontSize": 16, "titlePadding": 38, "titleAnchor": "end", "labelExpr": "substring(datum.label, 1)", "ticks": false, "labelFontSize": 17, "labelPadding": 3, "labelAngle": 0}}},
   "layer": [
    {"transform": [{"filter": "isValid(datum.mean)"}], "mark": {"type": "bar", "fill": "white", "stroke": "black", "strokeWidth": 2},
     "encoding": {"y": {"field": "mean", "type": "quantitative", "scale": {"type": "log", "domain": [1, 1000], "nice": false}, "axis": {"values": [1, 10, 100, 1000], "format": "d", "labelFontSize": 16, "tickSize": 6, "labelPadding": 2, "title": null}}, "y2": {"datum": 1}}},
    {"transform": [{"filter": "isValid(datum.mean)"}], "mark": {"type": "rule", "stroke": "black", "strokeWidth": 2},
     "encoding": {"y": {"field": "mean", "type": "quantitative", "scale": {"type": "log", "domain": [1, 1000], "nice": false}}, "y2": {"field": "hi"}}},
    {"transform": [{"filter": "isValid(datum.mean)"}], "mark": {"type": "tick", "color": "black", "thickness": 2, "size": 10},
     "encoding": {"y": {"field": "hi", "type": "quantitative", "scale": {"type": "log", "domain": [1, 1000], "nice": false}}}},
    {"transform": [{"filter": "isValid(datum.mean) && datum.wk == 'V1'"}], "mark": {"type": "rule", "stroke": "#555", "strokeWidth": 1.2, "strokeDash": [3, 2], "clip": false},
     "encoding": {"x": {"field": "wk", "type": "nominal", "bandPosition": -0.22, "scale": {"domain": ["C1","C2","C3","C4","C6","V1","V2","V3","V4","V6"], "paddingInner": 0.32, "paddingOuter": 0.11}},
      "y": {"datum": 1, "type": "quantitative", "scale": {"type": "log", "domain": [1, 1000], "nice": false}}, "y2": {"datum": 1000}}},
    {"transform": [{"filter": "isValid(datum.v)"}], "mark": {"type": "point", "shape": "circle", "filled": true, "size": 60, "strokeWidth": 1, "opacity": 1},
     "encoding": {"y": {"field": "v", "type": "quantitative", "scale": {"type": "log", "domain": [1, 1000], "nice": false}},
      "xOffset": {"field": "r", "type": "ordinal", "scale": {"domain": [1,2,3,4,5,6,7], "paddingInner": 0, "paddingOuter": 0}},
      "fill": {"condition": {"test": "substring(datum.wk, 0, 1) == 'C'", "value": "black"}, "value": "white"},
      "stroke": {"condition": {"test": "substring(datum.wk, 0, 1) == 'C'", "value": "black"}, "value": "#555"}}},
    {"transform": [{"filter": "isValid(datum.mean) && (datum.wk == 'C3' || datum.wk == 'V3')"}, {"calculate": "datum.wk == 'C3' ? 'Control' : 'CBD1/CBM'", "as": "grp"}],
     "mark": {"type": "text", "fontSize": 19, "baseline": "middle", "clip": false, "dx": -7, "color": "black"},
     "encoding": {"y": {"datum": 0.225, "type": "quantitative", "scale": {"type": "log", "domain": [1, 1000], "nice": false}}, "text": {"field": "grp"}}}
   ]}
 ]
}
]
}
